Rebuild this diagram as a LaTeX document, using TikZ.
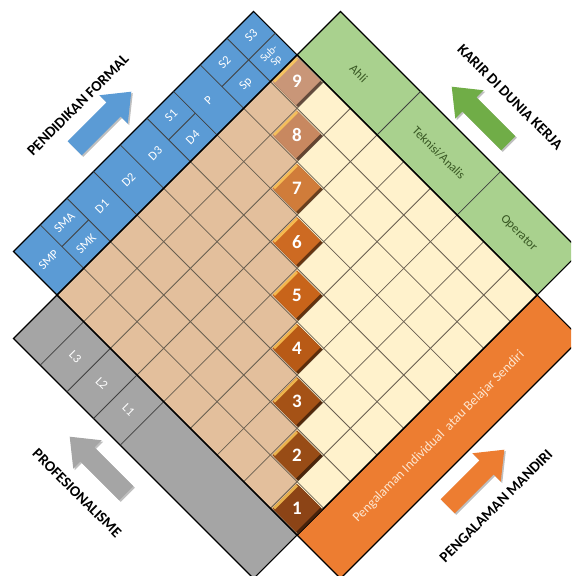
\documentclass[tikz,border=0pt]{standalone}
\usepackage{fontspec}
\setmainfont{Carlito}
\usepackage{tikz}
\definecolor{formalblue}{RGB}{91,155,213}
\definecolor{careergreen}{RGB}{169,209,142}
\definecolor{careerarrow}{RGB}{112,173,71}
\definecolor{careertext}{RGB}{56,87,35}
\definecolor{profgray}{RGB}{165,165,165}
\definecolor{selforange}{RGB}{237,125,49}
\definecolor{selftext}{RGB}{253,230,208}
\definecolor{gridtan}{RGB}{227,191,156}
\definecolor{gridcream}{RGB}{255,242,204}
\definecolor{gridline}{RGB}{105,95,80}
\definecolor{lvhigh}{RGB}{255,205,90}
\definecolor{lv1}{RGB}{140,68,22}
\definecolor{lv2}{RGB}{152,76,22}
\definecolor{lv3}{RGB}{165,82,22}
\definecolor{lv4}{RGB}{184,90,22}
\definecolor{lv5}{RGB}{200,100,26}
\definecolor{lv6}{RGB}{205,106,34}
\definecolor{lv7}{RGB}{208,124,58}
\definecolor{lv8}{RGB}{200,136,96}
\definecolor{lv9}{RGB}{201,150,120}

\tikzset{
  band/.style={draw=black, line width=1.2pt},
  divider/.style={draw=black!75, line width=0.8pt},
  cellline/.style={draw=gridline, line width=0.8pt},
  bandtext/.style={font=\fontsize{12.5}{12}\selectfont, inner sep=0pt},
  heading/.style={font=\bfseries\fontsize{15}{15}\selectfont, text=black},
  levelnum/.style={font=\bfseries\fontsize{19}{19}\selectfont, text=white, inner sep=0pt},
}

% block arrow: x, y, angle, colour
\newcommand{\fatarrow}[4]{%
  \begin{scope}[shift={(#1+1.5,#2-1.5)}, rotate=#3]
    \fill[black, opacity=0.25] (-40,-10) -- (15,-10) -- (15,-20) -- (40,0) -- (15,20) -- (15,10) -- (-40,10) -- cycle;
  \end{scope}
  \begin{scope}[shift={(#1,#2)}, rotate=#3]
    \fill[#4] (-40,-10) -- (15,-10) -- (15,-20) -- (40,0) -- (15,20) -- (15,10) -- (-40,10) -- cycle;
  \end{scope}}

\begin{document}
\begin{tikzpicture}[x=1pt, y=1pt]
\useasboundingbox (0,0) rectangle (571,576);
\clip (0,0) rectangle (571,576);

% the 9 x 9 level grid, in cell units
\begin{scope}[shift={(57,281)}, rotate=-45, scale=37.72]
  \fill[gridtan] (0,0) -- (9,0) -- (0,9) -- cycle;
  \fill[gridcream] (9,0) -- (9,9) -- (0,9) -- cycle;
  \foreach \k in {1,...,8} {
    \draw[cellline] (\k,0) -- (\k,9);
    \draw[cellline] (0,\k) -- (9,\k);
  }

  % formal education
  \filldraw[band, fill=formalblue] (-1.63,0) rectangle (0,9);
  \foreach \k in {1,...,8}
    \draw[divider] (-1.63,\k) -- (0,\k);
  \draw[divider] (-0.815,1) -- (-0.815,2) (-0.815,5) -- (-0.815,6) (-0.815,7) -- (-0.815,9);

  % career
  \filldraw[band, fill=careergreen] (0,9) rectangle (9,10.63);
  \draw[divider] (3,9) -- (3,10.63) (6,9) -- (6,10.63);

  % professionalism
  \filldraw[band, fill=profgray] (0,-1.63) rectangle (9,0);
  \foreach \k in {1,...,4}
    \draw[divider] (\k,-1.63) -- (\k,0);

  % self-learning
  \filldraw[band, fill=selforange] (9,0) rectangle (10.63,9);

  \draw[line width=1.4pt] (0,0) rectangle (9,9);

  % band labels
  \begin{scope}[every node/.style={bandtext, text=white, rotate=45}]
    \node (smp) at (-0.815,0.5) {SMP};
    \node (sma) at (-1.22,1.5) {SMA};
    \node (smk) at (-0.41,1.5) {SMK};
    \node (d1) at (-0.815,2.5) {D1};
    \node (d2) at (-0.815,3.5) {D2};
    \node (d3) at (-0.815,4.5) {D3};
    \node (s1) at (-1.22,5.5) {S1};
    \node (d4) at (-0.41,5.5) {D4};
    \node (p) at (-0.815,6.5) {P};
    \node (s2) at (-1.22,7.5) {S2};
    \node (sp) at (-0.41,7.5) {Sp};
    \node (s3) at (-1.22,8.5) {S3};
    \node[align=center, font=\fontsize{11}{10}\selectfont] (subsp) at (-0.41,8.5) {Sub-\\Sp};
  \end{scope}
  \begin{scope}[every node/.style={bandtext, text=careertext, rotate=-45}]
    \node (ahli) at (1.5,9.815) {Ahli};
    \node (teknisi) at (4.5,9.815) {Teknisi/Analis};
    \node (operator) at (7.5,9.815) {Operator};
  \end{scope}
  \begin{scope}[every node/.style={bandtext, text=white, rotate=-45}]
    \node (l3) at (1.5,-0.815) {L3};
    \node (l2) at (2.5,-0.815) {L2};
    \node (l1) at (3.5,-0.815) {L1};
  \end{scope}
  \node[bandtext, font=\fontsize{13.5}{13}\selectfont, text=selftext, rotate=45] (mandiri) at (9.815,4.5) {Pengalaman Individual\ \ atau Belajar Sendiri};

  % levels 1 to 9 on the diagonal
  \foreach \k in {1,...,9} {
    \pgfmathtruncatemacro\ci{9-\k}
    \pgfmathtruncatemacro\cj{\k-1}
    \fill[lv\k!50!black] (\ci+0.1,\cj+0.04) rectangle (\ci+1,\cj+0.96);
    \fill[lv\k] (\ci+0.04,\cj+0.04) rectangle (\ci+0.92,\cj+0.96);
    \draw[lvhigh!80!lv\k, line width=2.5pt] (\ci+0.07,\cj+0.07) -- (\ci+0.07,\cj+0.93);
    \node[levelnum] (level\k) at (\ci+0.5,\cj+0.5) {\k};
  }
\end{scope}

% the four directions
\fatarrow{103}{456}{45}{formalblue}
\node[heading, rotate=45] (formal) at (78,471) {PENDIDIKAN FORMAL};
\fatarrow{480}{461}{135}{careerarrow}
\node[heading, rotate=-45] (karir) at (510,479) {KARIR DI DUNIA KERJA};
\fatarrow{98}{111}{135}{profgray}
\node[heading, rotate=-45] (profesi) at (77,83) {PROFESIONALISME};
\fatarrow{476}{98}{45}{selforange}
\node[heading, rotate=45] (pengalaman) at (496,70) {PENGALAMAN MANDIRI};
\end{tikzpicture}
\end{document}
